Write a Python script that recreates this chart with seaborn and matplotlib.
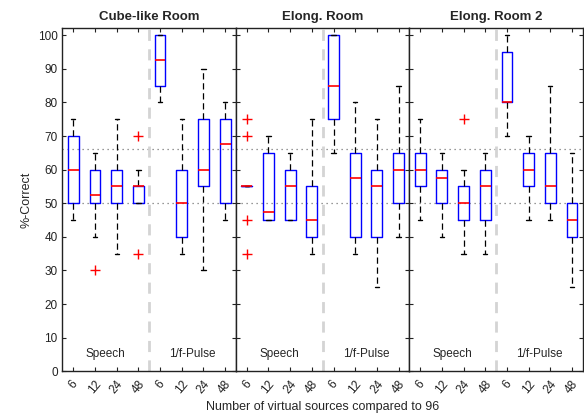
import numpy as np
import pandas as pd
import matplotlib
matplotlib.use("Agg")
import matplotlib.pyplot as plt
import seaborn as sns

# ---- data (box statistics) ----
rooms = ["Cube-like Room", "Elong. Room", "Elong. Room 2"]
conditions = ["S6", "S12", "S24", "S48", "P6", "P12", "P24", "P48"]
tick_labels = ["6", "12", "24", "48", "6", "12", "24", "48"]
group_labels = ["Speech", "1/f-Pulse"]

# per room: whisker low, q1, median, q3, whisker high, outliers
cube_whislo = [45, 40, 35, 50, 80, 35, 30, 45]
cube_q1     = [50, 50, 50, 50, 85, 40, 55, 50]
cube_med    = [60, 52.5, 55, 55, 92.5, 50, 60, 67.5]
cube_q3     = [70, 60, 60, 55, 100, 60, 75, 75]
cube_whishi = [75, 65, 75, 60, 100, 75, 90, 80]
cube_fliers = [[], [30], [], [35, 70], [], [], [], []]

elong_whislo = [55, 45, 45, 35, 65, 35, 25, 40]
elong_q1     = [55, 45, 45, 40, 75, 40, 40, 50]
elong_med    = [55, 47.5, 55, 45, 85, 57.5, 55, 60]
elong_q3     = [55, 65, 60, 55, 100, 65, 60, 65]
elong_whishi = [55, 70, 65, 75, 100, 80, 75, 85]
elong_fliers = [[35, 45, 70, 75], [], [], [], [], [], [], []]

elong2_whislo = [45, 40, 35, 35, 70, 45, 45, 25]
elong2_q1     = [55, 50, 45, 45, 80, 55, 50, 40]
elong2_med    = [60, 57.5, 50, 55, 80, 60, 55, 45]
elong2_q3     = [65, 60, 55, 60, 95, 65, 65, 50]
elong2_whishi = [75, 65, 60, 65, 100, 70, 85, 65]
elong2_fliers = [[], [], [75], [], [], [], [], []]

chance_lines = [50, 66]

room_stats = {
    rooms[0]: (cube_whislo, cube_q1, cube_med, cube_q3, cube_whishi, cube_fliers),
    rooms[1]: (elong_whislo, elong_q1, elong_med, elong_q3, elong_whishi, elong_fliers),
    rooms[2]: (elong2_whislo, elong2_q1, elong2_med, elong2_q3, elong2_whishi, elong2_fliers),
}


def sample_from_stats(wl, q1, med, q3, wh, fl):
    """Build a sample whose boxplot statistics equal the given summary."""
    lows = sorted(v for v in fl if v < q1)
    highs = sorted(v for v in fl if v > q3)
    m = max(len(lows), len(highs)) + 1
    low_part = lows + [wl] * (m - len(lows))
    high_part = [wh] * (m - len(highs)) + highs
    return low_part + [q1] + [med] * (m - 1) + [med] + [med] * (m - 1) + [q3] + high_part


rows = []
for room, (wl, q1, md, q3, wh, fl) in room_stats.items():
    for i, cond in enumerate(conditions):
        for v in sample_from_stats(wl[i], q1[i], md[i], q3[i], wh[i], fl[i]):
            rows.append({"room": room, "cond": cond, "value": v})
df = pd.DataFrame(rows)

# ---- styling ----
sns.set_theme(style="ticks")
plt.rcParams["font.family"] = ["Liberation Sans", "DejaVu Sans"]
plt.rcParams["xtick.direction"] = "in"
plt.rcParams["ytick.direction"] = "in"
plt.rcParams["axes.edgecolor"] = "#222222"
plt.rcParams["axes.linewidth"] = 1.0

fig, axes = plt.subplots(1, 3, figsize=(5.84, 4.19), dpi=100, sharey=True)
fig.subplots_adjust(left=0.107, right=0.998, bottom=0.114, top=0.932, wspace=0)

for k, (ax, room) in enumerate(zip(axes, rooms)):
    sub = df[df["room"] == room]
    for yv in chance_lines:
        ax.axhline(yv, color="#777777", ls=(0, (1, 3)), lw=0.9, zorder=0)
    ax.axvline(3.5, color="#d4d4d4", ls=(0, (4, 3)), lw=2.0, zorder=0)
    sns.boxplot(
        data=sub, x="cond", y="value", order=conditions, ax=ax,
        color="blue", fill=False, width=0.5, whis=1.5, linewidth=1.0,
        boxprops=dict(color="blue", linewidth=1.0),
        medianprops=dict(color="red", linewidth=1.2),
        whiskerprops=dict(color="black", linestyle=(0, (5, 3)), linewidth=0.9),
        capprops=dict(color="black", linewidth=1.0),
        capwidths=0.2,
        flierprops=dict(marker="+", markeredgecolor="red", markerfacecolor="red",
                        markersize=7, markeredgewidth=1.0),
    )
    ax.set_xlim(-0.5, 7.5)
    ax.set_ylim(0, 102)
    ax.set_yticks(np.arange(0, 101, 10))
    ax.set_xticks(range(len(conditions)))
    ax.set_xticklabels(tick_labels, rotation=50, ha="center", fontsize=8.5)
    ax.tick_params(axis="both", which="both", top=True, right=True,
                   length=3, width=0.8, labelsize=8.5, colors="#222222")
    ax.tick_params(axis="x", pad=5)
    ax.set_xlabel("")
    ax.set_ylabel("")
    ax.set_title(room, fontsize=9.5, fontweight="bold", pad=6)
    for sp in ax.spines.values():
        sp.set_visible(True)
        sp.set_color("#222222")
    ax.text(1.5, 5, group_labels[0], ha="center", va="center", fontsize=8.5)
    ax.text(5.5, 5, group_labels[1], ha="center", va="center", fontsize=8.5)
    if k > 0:
        ax.tick_params(axis="y", labelleft=False)

axes[0].set_ylabel("%-Correct", fontsize=9)
fig.text(0.552, 0.028, "Number of virtual sources compared to 96",
         ha="center", va="center", fontsize=9)

fig.savefig("out.png", dpi=100)
